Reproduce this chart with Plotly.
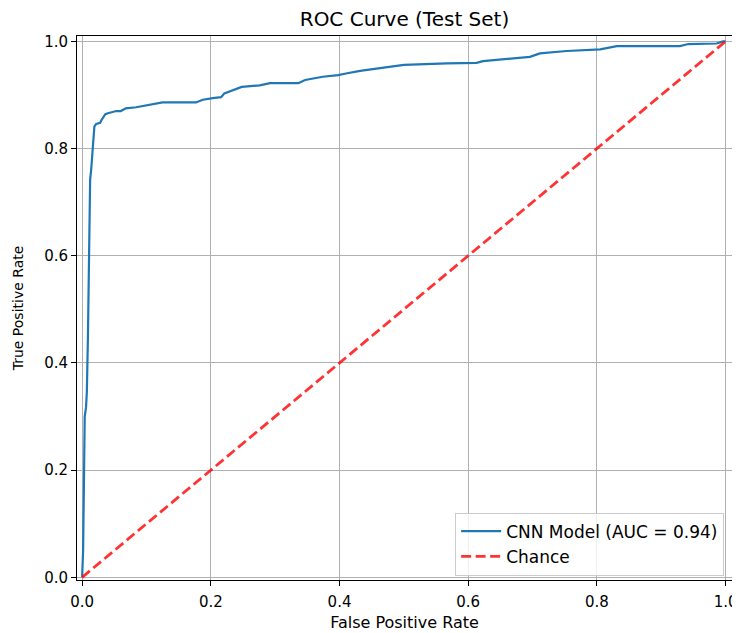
import plotly.graph_objects as go

# ROC curve points
fpr = [0.0, 0.0015, 0.003, 0.004, 0.006, 0.0073, 0.009, 0.0104, 0.012, 0.0124,
       0.014, 0.016, 0.019, 0.0218, 0.028, 0.0295, 0.033, 0.036, 0.040, 0.047,
       0.053, 0.060, 0.068, 0.084, 0.100, 0.115, 0.125, 0.177, 0.1875, 0.203,
       0.216, 0.221, 0.234, 0.248, 0.276, 0.292, 0.336, 0.3465, 0.374, 0.398,
       0.410, 0.432, 0.463, 0.500, 0.567, 0.613, 0.623, 0.649, 0.670, 0.696,
       0.7115, 0.753, 0.805, 0.831, 0.929, 0.942, 0.986, 0.996, 1.0]
tpr = [0.0, 0.05, 0.20, 0.30, 0.317, 0.345, 0.45, 0.55, 0.64, 0.742,
       0.76, 0.80, 0.841, 0.846, 0.848, 0.852, 0.860, 0.864, 0.866, 0.868,
       0.870, 0.870, 0.875, 0.877, 0.880, 0.883, 0.886, 0.886, 0.891, 0.894,
       0.896, 0.903, 0.909, 0.915, 0.918, 0.922, 0.922, 0.928, 0.934, 0.937,
       0.940, 0.945, 0.950, 0.956, 0.959, 0.960, 0.963, 0.966, 0.968, 0.971,
       0.9775, 0.982, 0.985, 0.991, 0.991, 0.995, 0.996, 1.0, 1.0]
auc_value = 0.94

chance_x = [0, 1]
chance_y = [0, 1]

tick_vals = [0.0, 0.2, 0.4, 0.6, 0.8, 1.0]
tick_text = ["0.0", "0.2", "0.4", "0.6", "0.8", "1.0"]

FONT = "DejaVu Sans"

fig = go.Figure()
fig.add_trace(go.Scatter(
    x=fpr, y=tpr, mode="lines",
    name=f"CNN Model (AUC = {auc_value:.2f})",
    line=dict(color="#1f77b4", width=2.2),
))
fig.add_trace(go.Scatter(
    x=chance_x, y=chance_y, mode="lines", name="Chance",
    line=dict(color="rgba(255,0,0,0.8)", width=2.8, dash="10px,4.5px"),
))

axis_common = dict(
    showline=True, linecolor="black", linewidth=1, mirror=True,
    ticks="outside", ticklen=5, tickwidth=1, tickcolor="black",
    showgrid=True, gridcolor="#b0b0b0", gridwidth=1,
    zeroline=False,
    tickvals=tick_vals, ticktext=tick_text,
    tickfont=dict(family=FONT, size=15, color="black"),
    ticklabeloverflow="allow",
)

fig.update_xaxes(
    range=[-0.008, 1.01],
    ticklabelstandoff=3,
    title=dict(text="False Positive Rate", font=dict(family=FONT, size=16, color="black"), standoff=6),
    **axis_common,
)
fig.update_yaxes(
    range=[-0.005, 1.01],
    title=dict(text="True Positive Rate", font=dict(family=FONT, size=14, color="black"), standoff=17),
    **axis_common,
)

# the page places the figure 8px in from the top-left corner
W, H = 732, 625
fig.update_layout(
    width=W, height=H,
    margin=dict(l=69, r=8, t=28, b=53, autoexpand=False),
    paper_bgcolor="white", plot_bgcolor="white",
    title=dict(text="ROC Curve (Test Set)", x=0.5, xref="paper",
               y=1 - 11 / H, yref="container", yanchor="middle",
               font=dict(family=FONT, size=20, color="black")),
    legend=dict(
        x=0.988, y=0.008, xanchor="right", yanchor="bottom",
        bgcolor="rgba(255,255,255,0.8)", bordercolor="#cccccc", borderwidth=1,
        font=dict(family=FONT, size=17, color="black"),
        itemwidth=40, tracegroupgap=0,
    ),
    showlegend=True,
)

fig.write_html("out.html")
